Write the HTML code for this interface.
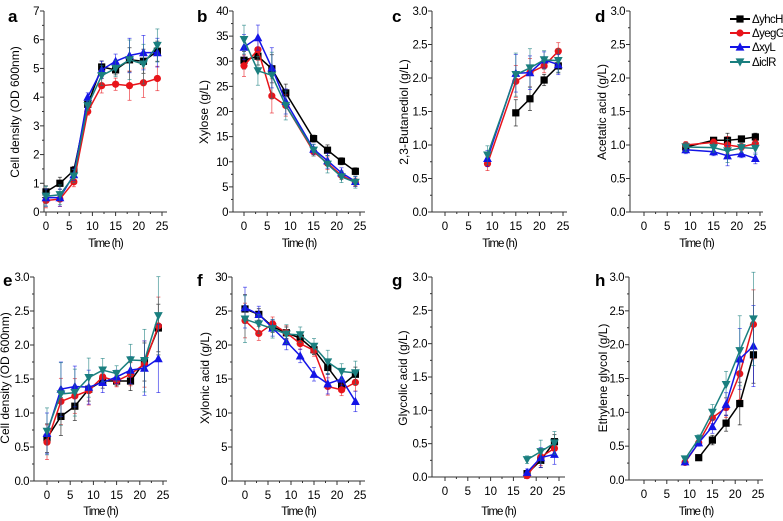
<!DOCTYPE html>
<html><head><meta charset="utf-8"><style>
html,body{margin:0;padding:0;background:#fff;}
svg{display:block;font-family:"Liberation Sans",sans-serif;}
</style></head><body>
<svg id="fig" width="783" height="521" viewBox="0 0 783 521"></svg>
<script>
const names=['ΔyhcH','ΔyegG','ΔxyL','ΔiclR'];
const colors=['#000000','#e8141a','#1414e6','#1a7f7f'];
// panel a
const aX=[0,3,6,9,12,15,18,21,24];
const aYhcH=[0.7,1.0,1.45,3.75,5.05,4.95,5.3,5.25,5.6];
const aYegG=[0.4,0.45,1.05,3.5,4.4,4.45,4.4,4.5,4.65];
const aXyL=[0.5,0.5,1.3,4.0,4.95,5.25,5.45,5.55,5.55];
const aIclR=[0.55,0.6,1.25,3.7,4.75,5.0,5.3,5.15,5.8];
const aErr=[0.3,0.3,0.2,0.15,0.3,0.25,0.6,0.6,0.5];
// panel b
const bX=[0,3,6,9,15,18,21,24];
const bYhcH=[30.2,31,28.5,23.7,14.6,12.3,10.1,8.1];
const bYegG=[29.1,32.3,23.1,21.2,12,9.7,7.3,5.9];
const bXyL=[32.8,34.7,28.7,22,12.5,10.2,7.8,6.1];
const bIclR=[34.3,28.1,27.2,21.2,12.3,9.5,7,5.9];
const bErr=[2.5,2.5,4,2.5,1,1.5,1,1];
// panel c
const cX=[9,15,18,21,24];
const cYhcH=[null,1.48,1.69,1.97,2.18];
const cYegG=[0.72,1.95,2.08,2.18,2.4];
const cXyL=[0.8,2.07,2.08,2.27,2.2];
const cIclR=[0.85,2.05,2.15,2.27,2.26];
const cErr=[0.12,0.28,0.25,0.12,0.15];
// panel d
const dX=[9,15,18,21,24];
const dYhcH=[0.97,1.07,1.07,1.09,1.12];
const dYegG=[1.0,1.04,1.0,0.97,1.02];
const dXyL=[0.93,0.9,0.84,0.87,0.8];
const dIclR=[0.97,0.96,0.91,0.96,0.95];
const dErr=[0.06,0.06,0.15,0.06,0.08];
// panel e
const eX=[0,3,6,9,12,15,18,21,24];
const eYhcH=[0.63,0.95,1.1,1.35,1.47,1.47,1.47,1.75,2.25];
const eYegG=[0.57,1.17,1.25,1.33,1.53,1.47,1.57,1.72,2.28];
const eXyL=[0.7,1.35,1.39,1.38,1.45,1.53,1.63,1.66,1.8];
const eIclR=[0.73,1.28,1.3,1.52,1.63,1.58,1.78,1.77,2.43];
const eErr=[0.3,0.4,0.3,0.25,0.15,0.1,0.2,0.4,0.5];
// panel f
const fX=[0,3,6,9,12,15,18,21,24];
const fYhcH=[25.3,24.5,22.7,21.8,21,19.3,16.7,14,15.7];
const fYegG=[23.6,21.7,23.1,21.8,20.2,19.2,13.9,13.4,14.5];
const fXyL=[25.5,24.5,22.5,20.5,18.4,15.7,14.3,15,11.7];
const fIclR=[23.8,23.1,22.4,21.6,21.5,19.8,17.5,16.1,15.9];
const fErr=[3,1.2,1.2,1.2,1,1,1.5,1,1.5];
// panel g
const gX=[18,21,24];
const gYhcH=[0.05,0.25,0.53];
const gYegG=[0.02,0.3,0.43];
const gXyL=[0.07,0.29,0.34];
const gIclR=[0.26,0.38,0.51];
const gErr=[0.05,0.15,0.15];
// panel h
const hX=[9,12,15,18,21,24];
const hYhcH=[null,0.33,0.59,0.84,1.13,1.85];
const hYegG=[0.26,0.55,0.92,1.07,1.57,2.3];
const hXyL=[0.27,0.55,0.79,1.12,1.79,1.98];
const hIclR=[0.31,0.61,1.0,1.41,1.91,2.38];
const hErr=[0.04,0.05,0.1,0.17,0.45,0.6];
const xTicks=[0,5,10,15,20,25];

const panels=[
 {id:'a',lx:8,ly:22,ax:44,x0px:46,x25px:162,right:167,top:11,bot:212,ymax:7,ystep:1,dec:0,title:'Cell density (OD 600nm)',tx:15,ty:112,xt:247,X:aX,S:[aYhcH,aYegG,aXyL,aIclR],E:aErr},
 {id:'b',lx:197,ly:22,ax:233,x0px:244,x25px:360,right:365,top:11,bot:212,ymax:40,ystep:5,dec:0,title:'Xylose (g/L)',tx:204,ty:112,xt:247,X:bX,S:[bYhcH,bYegG,bXyL,bIclR],E:bErr},
 {id:'c',lx:392,ly:22,ax:432,x0px:445,x25px:563,right:567,top:11,bot:212,ymax:3,ystep:0.5,dec:1,title:'2,3-Butanediol (g/L)',tx:404,ty:112,xt:247,X:cX,S:[cYhcH,cYegG,cXyL,cIclR],E:cErr},
 {id:'d',lx:595,ly:22,ax:630,x0px:644,x25px:760,right:763,top:11,bot:212,ymax:3,ystep:0.5,dec:1,title:'Acetatic acid (g/L)',tx:602,ty:112,xt:247,X:dX,S:[dYhcH,dYegG,dXyL,dIclR],E:dErr},
 {id:'e',lx:3,ly:286,ax:34,x0px:47,x25px:163,right:167,top:277,bot:481,ymax:3,ystep:0.5,dec:1,title:'Cell density (OD 600nm)',tx:5,ty:378,xt:515,X:eX,S:[eYhcH,eYegG,eXyL,eIclR],E:eErr},
 {id:'f',lx:197,ly:286,ax:232,x0px:245,x25px:360,right:365,top:277,bot:481,ymax:30,ystep:5,dec:0,title:'Xylonic acid (g/L)',tx:205,ty:378,xt:515,X:fX,S:[fYhcH,fYegG,fXyL,fIclR],E:fErr},
 {id:'g',lx:392,ly:286,ax:432,x0px:445,x25px:559,right:565,top:277,bot:477,ymax:3,ystep:0.5,dec:1,title:'Glycolic acid (g/L)',tx:403,ty:378,xt:515,X:gX,S:[gYhcH,gYegG,gXyL,gIclR],E:gErr},
 {id:'h',lx:595,ly:286,ax:629,x0px:644,x25px:758,right:763,top:277,bot:480,ymax:3,ystep:0.5,dec:1,title:'Ethylene glycol (g/L)',tx:603,ty:378,xt:515,X:hX,S:[hYhcH,hYegG,hXyL,hIclR],E:hErr}
];
const NS='http://www.w3.org/2000/svg';
const svg=document.getElementById('fig');
function mk(tag,attrs,parent){const e=document.createElementNS(NS,tag);for(const k in attrs)e.setAttribute(k,attrs[k]);(parent||svg).appendChild(e);return e;}
function marker(g,k,x,y,c){
 const s=3.6;
 if(k===0)return mk('rect',{x:x-s,y:y-s,width:2*s,height:2*s,fill:c},g);
 if(k===1)return mk('circle',{cx:x,cy:y,r:s,fill:c},g);
 if(k===2)return mk('polygon',{points:`${x},${y-s-1} ${x-s-0.8},${y+s} ${x+s+0.8},${y+s}`,fill:c},g);
 return mk('polygon',{points:`${x},${y+s+1} ${x-s-0.8},${y-s} ${x+s+0.8},${y-s}`,fill:c},g);
}
panels.forEach(p=>{
 const g=mk('g',{});
 
 
 const sx=v=>p.x0px+(p.x25px-p.x0px)*v/25;
 const sy=v=>p.bot-(p.bot-p.top)*v/p.ymax;
 const lt=mk('text',{x:p.lx,y:p.ly,'font-size':17,'font-weight':'bold'},g);lt.textContent=p.id;
 
 const ya=mk('line',{x1:p.ax,y1:p.top,x2:p.ax,y2:p.bot,stroke:'#333','stroke-width':1},g);
 
 const xa=mk('line',{x1:p.ax,y1:p.bot,x2:p.right,y2:p.bot,stroke:'#333','stroke-width':1},g);
 
 const n=Math.round(p.ymax/p.ystep);
 for(let i=0;i<=n;i++){
  const v=i*p.ystep,y=sy(v);
  mk('line',{x1:p.ax-4,y1:y,x2:p.ax,y2:y,stroke:'#333'},g);
  if(i<n)mk('line',{x1:p.ax-2,y1:sy(v+p.ystep/2),x2:p.ax,y2:sy(v+p.ystep/2),stroke:'#333'},g);
  const t=mk('text',{x:p.ax-5,y:y+4,'font-size':11.5,'text-anchor':'end','letter-spacing':'-0.5'},g);
  t.textContent=v.toFixed(p.dec);
  
 }
 xTicks.forEach((v,i)=>{
  const x=sx(v);
  mk('line',{x1:x,y1:p.bot,x2:x,y2:p.bot+4,stroke:'#333'},g);
  if(i<xTicks.length-1)mk('line',{x1:sx(v+2.5),y1:p.bot,x2:sx(v+2.5),y2:p.bot+2,stroke:'#333'},g);
  const t=mk('text',{x:x,y:p.bot+18,'font-size':11.5,'text-anchor':'middle'},g);
  t.textContent=v;
  
 });
 const xt=mk('text',{x:(p.ax+p.right)/2,y:p.xt,'font-size':11.5,'text-anchor':'middle','letter-spacing':'-1'},g);
 xt.textContent='Time (h)';
 
 const yt=mk('text',{x:p.tx,y:p.ty,'font-size':12,'text-anchor':'middle',transform:`rotate(-90 ${p.tx} ${p.ty})`,dy:'0.35em'},g);
 yt.textContent=p.title;
 
 p.S.forEach((ser,k)=>{
  const c=colors[k];
  const sg=mk('g',{},g);
  
  
  const pts=[];
  ser.forEach((v,i)=>{if(v!==null)pts.push([sx(p.X[i]),sy(v),v,i]);});
  mk('polyline',{points:pts.map(q=>q[0]+','+q[1]).join(' '),fill:'none',stroke:c,'stroke-width':1.5},sg);
  pts.forEach(q=>{
   const e=p.E[q[3]]*(0.7+0.15*k);
   const y1=sy(q[2]+e),y2=sy(Math.max(0,q[2]-e));
   mk('line',{x1:q[0],y1:y1,x2:q[0],y2:y2,stroke:c,'stroke-width':0.8,opacity:0.7},sg);
   mk('line',{x1:q[0]-2,y1:y1,x2:q[0]+2,y2:y1,stroke:c,'stroke-width':0.8,opacity:0.7},sg);
   mk('line',{x1:q[0]-2,y1:y2,x2:q[0]+2,y2:y2,stroke:c,'stroke-width':0.8,opacity:0.7},sg);
   const m=marker(sg,k,q[0],q[1],c);
   
   
  });
 });
});
const lg=mk('g',{});


const legY=[19,33,47,62];
names.forEach((nm,k)=>{
 const eg=mk('g',{},lg);
 
 
 mk('line',{x1:730,y1:legY[k],x2:750,y2:legY[k],stroke:colors[k],'stroke-width':2},eg);
 marker(eg,k,740,legY[k],colors[k]);
 const t=mk('text',{x:752,y:legY[k]+4,'font-size':11.5,'letter-spacing':'-0.6'},eg);
 t.textContent=nm;
});
</script>
</body></html>
